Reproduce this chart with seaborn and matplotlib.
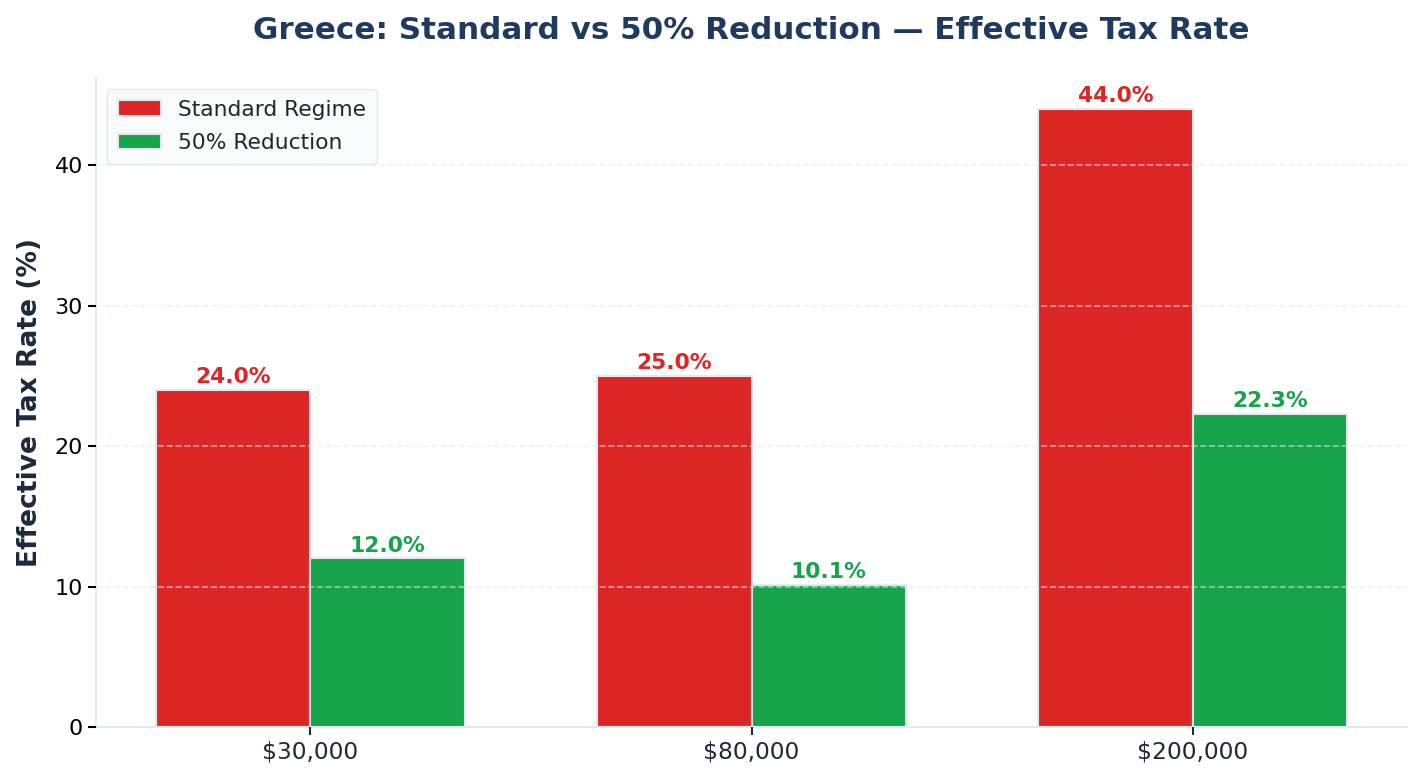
import matplotlib
matplotlib.use("Agg")
import matplotlib.pyplot as plt
import seaborn as sns
import pandas as pd

incomes = ["$30,000", "$80,000", "$200,000"]
regimes = ["Standard Regime", "50% Reduction"]
standard_rates = [24.0, 25.0, 44.0]
reduced_rates = [12.0, 10.1, 22.3]
colors = ["#dc2626", "#16a34a"]

df = pd.DataFrame({
    "income": incomes * 2,
    "regime": [regimes[0]] * 3 + [regimes[1]] * 3,
    "rate": standard_rates + reduced_rates,
})

sns.set_style("white")
plt.rcParams['font.family'] = ['DejaVu Sans']

fig = plt.figure(figsize=(14.23, 7.83), dpi=100)
ax = fig.add_axes([0.0675, 0.0715, 0.9213, 0.829])

sns.barplot(data=df, x="income", y="rate", hue="regime", order=incomes,
            hue_order=regimes, palette=colors, width=0.7, saturation=1,
            edgecolor="#e2e8f0", linewidth=1.5, ax=ax, errorbar=None)

for container, col in zip(ax.containers, colors):
    labels = [f"{v:.1f}%" for v in container.datavalues]
    ax.bar_label(container, labels=labels, padding=2, color=col,
                 fontsize=15.7, fontweight="bold")

ax.set_xlim(-0.485, 2.485)
ax.set_ylim(0, 46.2)
ax.set_yticks([0, 10, 20, 30, 40])
ax.grid(axis="y", linestyle="--", color="#e2e8f0", alpha=0.6, linewidth=1.2)
ax.set_axisbelow(False)

for s in ["top", "right"]:
    ax.spines[s].set_visible(False)
for s in ["left", "bottom"]:
    ax.spines[s].set_color("#e2e8f0")
    ax.spines[s].set_linewidth(1.5)

ax.tick_params(axis="x", labelsize=16.8, labelcolor="#1e293b", length=6, width=1.5, color="#1e293b")
ax.tick_params(axis="y", labelsize=16, labelcolor="black", length=6, width=1.5, color="black", left=True)
ax.tick_params(axis="x", bottom=True)

ax.set_xlabel("")
ax.set_ylabel("Effective Tax Rate (%)", fontsize=19.1, fontweight="bold", color="#1e293b", labelpad=8)
ax.set_title("Greece: Standard vs 50% Reduction — Effective Tax Rate",
             fontsize=22.3, fontweight="bold", color="#1e3a5f", pad=28)

leg = ax.legend(loc="upper left", fontsize=15.7, frameon=True, facecolor="#f8fafc",
                edgecolor="#e2e8f0", framealpha=1, labelspacing=0.62, borderpad=0.5,
                handletextpad=0.75)
leg.set_title(None)

fig.savefig("out.png", dpi=100)
